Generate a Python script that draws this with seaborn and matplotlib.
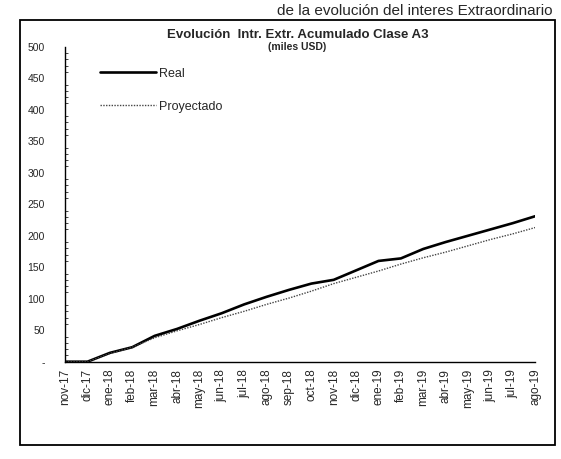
import matplotlib
matplotlib.use("Agg")
import matplotlib.pyplot as plt
import seaborn as sns
import pandas as pd
from matplotlib.patches import Rectangle
from matplotlib.ticker import MultipleLocator, FuncFormatter

months = ["nov-17", "dic-17", "ene-18", "feb-18", "mar-18", "abr-18", "may-18",
          "jun-18", "jul-18", "ago-18", "sep-18", "oct-18", "nov-18", "dic-18",
          "ene-19", "feb-19", "mar-19", "abr-19", "may-19", "jun-19", "jul-19",
          "ago-19"]
real = [0, 0, 14, 23, 41, 52, 65, 77, 91, 103, 114, 124, 130, 145, 160, 164,
        179, 190, 200, 210, 220, 231]
proyectado = [0, 0, 13, 23, 38, 49, 59, 70, 80, 91, 101, 112, 124, 134, 144,
              155, 165, 174, 184, 194, 203, 213]

df = pd.DataFrame({"idx": list(range(len(months))) * 2,
                   "valor": real + proyectado,
                   "serie": ["Real"] * len(months) + ["Proyectado"] * len(months)})

sns.set_theme(style="white")
plt.rcParams["font.family"] = ["Liberation Sans", "DejaVu Sans"]

fig = plt.figure(figsize=(5.61, 4.59), dpi=100)
ax = fig.add_axes([0.116, 0.212, 0.838, 0.686])

sns.lineplot(data=df[df.serie == "Real"], x="idx", y="valor", ax=ax,
             color="black", linewidth=1.9, label="Real")
sns.lineplot(data=df[df.serie == "Proyectado"], x="idx", y="valor", ax=ax,
             color="#444444", linewidth=1.0, linestyle=(0, (1, 1)),
             label="Proyectado")

ax.set_xlim(0, len(months) - 1)
ax.set_ylim(0, 500)
ax.set_xticks(range(len(months)))
ax.set_xticklabels(months, rotation=90, fontsize=8.5)
ax.yaxis.set_major_locator(MultipleLocator(50))
ax.yaxis.set_minor_locator(MultipleLocator(10))
ax.yaxis.set_major_formatter(FuncFormatter(lambda v, p: "-" if v == 0 else f"{int(v)}"))
ax.tick_params(axis="y", labelsize=7.5, direction="inout", length=5, width=0.8, pad=12)
ax.tick_params(axis="y", which="minor", direction="in", length=2, width=0.6, left=True)
ax.tick_params(axis="x", direction="inout", length=4, width=0.8, pad=3)
ax.set_xlabel("")
ax.set_ylabel("")
for s in ["top", "right"]:
    ax.spines[s].set_visible(False)
for s in ["left", "bottom"]:
    ax.spines[s].set_color("black")
    ax.spines[s].set_linewidth(1.0)
ax.spines["bottom"].set_linestyle((0, (3, 1)))

leg = ax.legend(loc="upper left", bbox_to_anchor=(0.05, 0.97), frameon=False,
                fontsize=9, labelspacing=1.7, handlelength=4.5, handletextpad=0.2)

fig.text(0.53, 0.924, "Evolución  Intr. Extr. Acumulado Clase A3",
         ha="center", va="center", fontsize=9.5, fontweight="bold")
fig.text(0.53, 0.898, "(miles USD)", ha="center", va="center",
         fontsize=7.5, fontweight="bold")
fig.text(0.985, 0.976, "de la evolución del interes Extraordinario",
         ha="right", va="center", fontsize=11)

fig.patches.append(Rectangle((0.035, 0.03), 0.955, 0.926, transform=fig.transFigure,
                             fill=False, edgecolor="black", linewidth=1.3))

fig.savefig("out.png", dpi=100, facecolor="white")
